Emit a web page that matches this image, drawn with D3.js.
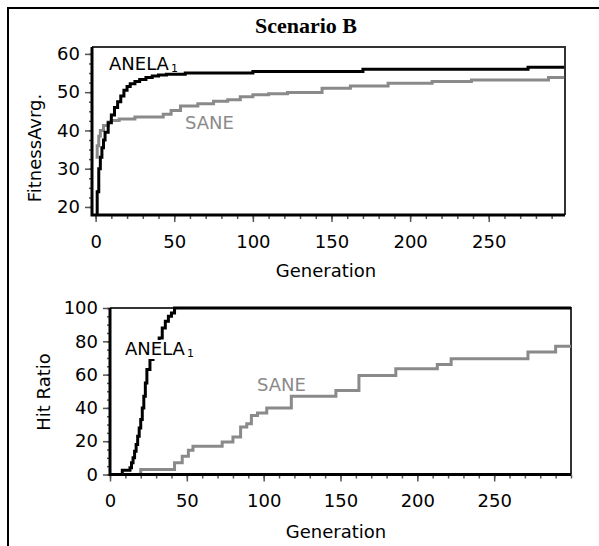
<!DOCTYPE html>
<html>
<head>
<meta charset="utf-8">
<script src="https://cdn.jsdelivr.net/npm/d3@7"></script>
<style>
  body { margin: 0; background: #fff; }
  text { font-family: "DejaVu Sans", sans-serif; }
</style>
</head>
<body>
<div id="chart"></div>
<script>
// top panel: average fitness per generation
const anelaGen1 = [0, 1, 2, 3, 4, 5, 6, 8, 10, 12, 14, 16, 18, 20, 22, 25, 28, 32, 36, 40, 45, 57, 100, 170, 275, 298];
const anelaFit1 = [18, 24, 30, 33, 35.5, 37.5, 39.5, 42, 44, 46, 47.5, 49, 50.5, 51.5, 52.2, 52.8, 53.3, 53.8, 54.2, 54.5, 54.7, 55, 55.4, 56, 56.5, 56.5];
const saneGen1 = [0, 1, 2, 3, 5, 8, 10, 15, 25, 43, 48, 54, 65, 75, 84, 92, 100, 110, 122, 144, 162, 186, 214, 239, 288, 298];
const saneFit1 = [33, 36, 38.5, 40, 41.3, 42.2, 42.6, 43, 43.5, 44.2, 45.2, 46.4, 47, 47.6, 48, 48.8, 49.3, 49.6, 49.9, 51, 51.6, 52.3, 52.8, 53.2, 53.8, 53.8];

// bottom panel: hit ratio per generation
const anelaGen2 = [0, 8, 13, 14, 15, 16, 17, 18, 19, 20, 21, 22, 23, 24, 26, 28, 30, 32, 34, 36, 38, 40, 42, 300];
const anelaHit2 = [0, 2.5, 4, 7, 10, 14, 18, 23, 28, 33, 40, 47, 55, 63, 69, 74, 78, 82, 88, 92, 95, 97, 100, 100];
const saneGen2 = [0, 20, 42, 47, 51, 54, 73, 80, 85, 89, 92, 96, 102, 118, 147, 162, 186, 213, 222, 272, 290, 300];
const saneHit2 = [0, 3, 7, 11, 14.5, 17, 19.5, 22.5, 28.5, 30.5, 35.5, 37, 40, 47, 50.5, 59.5, 63.5, 66, 69.5, 73.5, 77, 77];

const genTicks = [0, 50, 100, 150, 200, 250];
const fitTicks = [20, 30, 40, 50, 60];
const hitTicks = [0, 20, 40, 60, 80, 100];

const width = 599, height = 546;
const grey = "#8a8a8a";
const fs = "18px";

let svg = d3.select("#chart").append("svg")
  .attr("width", width)
  .attr("height", height);

// outer frame (top and left only)
svg.append("path")
  .attr("d", "M8,546V8H599")
  .attr("fill", "none")
  .attr("stroke", "#000")
  .attr("stroke-width", 2);

svg.append("text")
  .attr("x", 306).attr("y", 33)
  .attr("text-anchor", "middle")
  .style("font-family", "'Liberation Serif', 'Times New Roman', serif")
  .style("font-weight", "bold")
  .style("font-size", "22px")
  .text("Scenario B");

function zip(xs, ys) { return xs.map(function(x, i) { return [x, ys[i]]; }); }

function panel(opt) {
  let x = d3.scaleLinear().domain(opt.xDomain).range([opt.left, opt.right]);
  let y = d3.scaleLinear().domain(opt.yDomain).range([opt.bottom, opt.top]);
  let g = svg.append("g");
  let id = "clip" + opt.name;

  g.append("clipPath").attr("id", id)
    .append("rect")
    .attr("x", opt.left).attr("y", opt.top - 2)
    .attr("width", opt.right - opt.left).attr("height", opt.bottom - opt.top + 4);

  // minor + major x ticks
  let xMinor = d3.range(0, opt.xDomain[1] + 0.1, 10);
  let xAxis = d3.axisBottom(x).tickValues(xMinor)
    .tickSize(4).tickFormat("");
  g.append("g").attr("transform", "translate(0," + opt.bottom + ")").call(xAxis);
  let xMajor = d3.axisBottom(x).tickValues(genTicks).tickSize(7).tickPadding(13)
    .tickFormat(d3.format("d"));
  g.append("g").attr("class", "major").attr("transform", "translate(0," + opt.bottom + ")").call(xMajor);

  let yAxis = d3.axisLeft(y).tickValues(opt.yMinor).tickSize(3).tickFormat("");
  g.append("g").attr("transform", "translate(" + opt.left + ",0)").call(yAxis);
  let yMajor = d3.axisLeft(y).tickValues(opt.yTicks).tickSize(7).tickPadding(5)
    .tickFormat(d3.format("d"));
  g.append("g").attr("class", "major").attr("transform", "translate(" + opt.left + ",0)").call(yMajor);

  g.selectAll(".domain").remove();
  g.selectAll(".tick line").attr("stroke", "#555").attr("stroke-width", 1.5);
  g.selectAll(".major text")
    .style("font-family", "'DejaVu Sans', sans-serif")
    .style("font-size", fs)
    .attr("fill", "#000");

  // thin top/right box
  g.append("path")
    .attr("d", "M" + opt.left + "," + opt.top + "H" + opt.right + "V" + opt.bottom)
    .attr("fill", "none").attr("stroke", "#333").attr("stroke-width", 2);

  let line = d3.line()
    .x(function(d) { return x(d[0]); })
    .y(function(d) { return y(d[1]); })
    .curve(d3.curveStepAfter);

  g.append("path").datum(zip(opt.saneX, opt.saneY))
    .attr("clip-path", "url(#" + id + ")")
    .attr("d", line).attr("fill", "none")
    .attr("stroke", grey).attr("stroke-width", 3);
  g.append("path").datum(zip(opt.anelaX, opt.anelaY))
    .attr("clip-path", "url(#" + id + ")")
    .attr("d", line).attr("fill", "none")
    .attr("stroke", "#000").attr("stroke-width", 3);

  // thick left/bottom axis lines
  g.append("path")
    .attr("d", "M" + opt.left + "," + opt.top + "V" + opt.bottom + "H" + opt.right)
    .attr("fill", "none").attr("stroke", "#000").attr("stroke-width", 3);

  // labels
  let al = g.append("g").attr("transform", "translate(" + opt.anelaLabel + ")");
  if (opt.knockout) {
    al.append("rect").attr("x", -2).attr("y", -15).attr("width", 74).attr("height", 19).attr("fill", "#fff");
  }
  let at = al.append("text").style("font-size", fs).text("ANELA");
  let w = at.node().getComputedTextLength();
  al.append("text").attr("x", w + 2).attr("y", 2).style("font-size", "11px").text("1");

  g.append("text").attr("transform", "translate(" + opt.saneLabel + ")")
    .style("font-size", fs).attr("fill", grey).text("SANE");

  g.append("text")
    .attr("x", opt.xTitle[0]).attr("y", opt.xTitle[1])
    .attr("text-anchor", "middle").style("font-size", fs)
    .text("Generation");
  g.append("text")
    .attr("transform", "translate(" + opt.yTitle[0] + "," + opt.yTitle[1] + ") rotate(-90)")
    .attr("text-anchor", "middle").style("font-size", fs)
    .text(opt.yLabel);
}

panel({
  name: "fit",
  left: 92, right: 565, top: 47, bottom: 215,
  xDomain: [-2.3, 298.5], yDomain: [17.9, 61.8],
  yTicks: fitTicks, yMinor: d3.range(20, 61, 2.5),
  anelaX: anelaGen1, anelaY: anelaFit1,
  saneX: saneGen1, saneY: saneFit1,
  anelaLabel: [109, 70], saneLabel: [185, 129],
  xTitle: [326, 277], yTitle: [41, 148], yLabel: "FitnessAvrg."
});

panel({
  name: "hit",
  left: 110, right: 571, top: 308, bottom: 474.5,
  xDomain: [0, 300], yDomain: [0, 100],
  yTicks: hitTicks, yMinor: d3.range(0, 101, 5),
  anelaX: anelaGen2, anelaY: anelaHit2,
  saneX: saneGen2, saneY: saneHit2,
  anelaLabel: [125, 355], saneLabel: [257, 391], knockout: true,
  xTitle: [336, 538], yTitle: [50, 392], yLabel: "Hit Ratio"
});
</script>
</body>
</html>
